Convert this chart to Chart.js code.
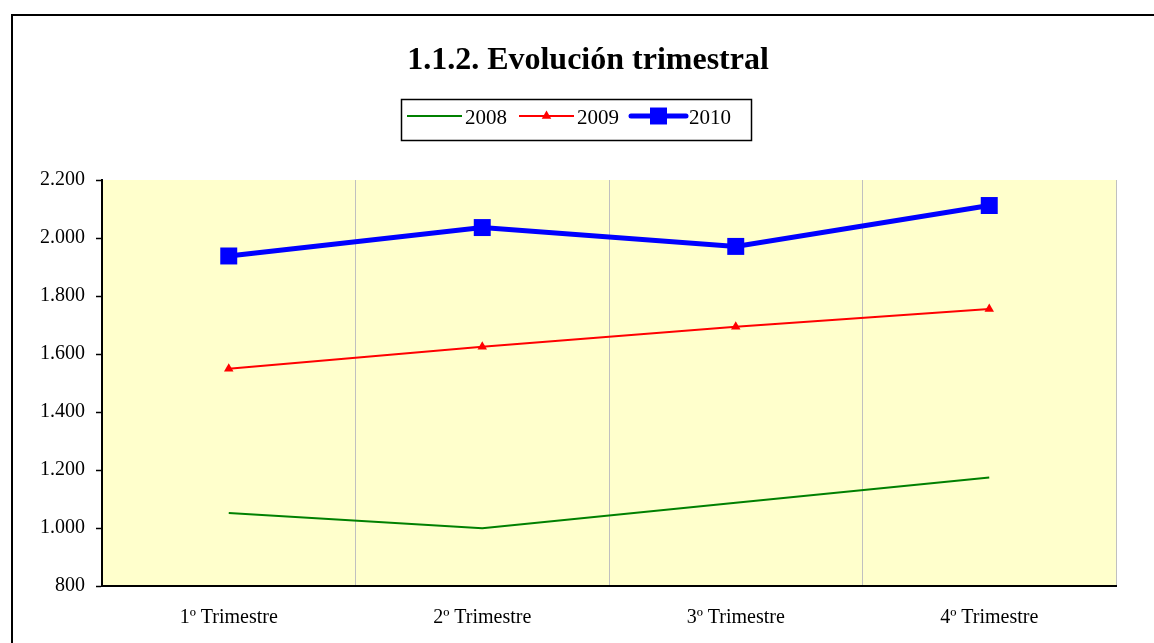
<!DOCTYPE html>
<html>
<head>
<meta charset="utf-8">
<script src="https://cdn.jsdelivr.net/npm/chart.js@4.4.1/dist/chart.umd.min.js"></script>
<style>
  html, body { margin: 0; padding: 0; background: #fff; overflow: hidden; }
  #c { display: block; }
</style>
</head>
<body>
<canvas id="c" width="1154" height="643"></canvas>
<script>
const chartTitle = '1.1.2. Evolución trimestral';
const categories = ['1º Trimestre', '2º Trimestre', '3º Trimestre', '4º Trimestre'];
const seriesNames = ['2008', '2009', '2010'];
const values2008 = [1052, 999, 1087, 1174];
const values2009 = [1549, 1625, 1694, 1755];
const values2010 = [1938, 2036, 1971, 2112];
const yTickValues = [800, 1000, 1200, 1400, 1600, 1800, 2000, 2200];

const FONT = "'Liberation Serif', 'Times New Roman', serif";

function fmt(v) {
  return String(v).replace(/\B(?=(\d{3})+(?!\d))/g, '.');
}

const bgPlugin = {
  id: 'bg',
  beforeDraw(chart) {
    const ctx = chart.ctx;
    const a = chart.chartArea;
    ctx.save();
    ctx.fillStyle = '#ffffff';
    ctx.fillRect(0, 0, chart.width, chart.height);
    ctx.fillStyle = '#FFFFCC';
    ctx.fillRect(a.left, a.top, a.right - a.left, a.bottom - a.top);
    ctx.strokeStyle = '#000';
    ctx.lineWidth = 2;
    ctx.strokeRect(12, 15, 2000, 2000);
    ctx.restore();
  }
};

function drawMarker(ctx, style, r, x, y, color) {
  ctx.fillStyle = color;
  ctx.beginPath();
  if (style === 'rect') {
    const s = Math.SQRT1_2 * r;
    ctx.rect(x - s, y - s, 2 * s, 2 * s);
  } else if (style === 'triangle') {
    ctx.moveTo(x, y - r);
    ctx.lineTo(x + r * Math.sin(Math.PI / 3), y + r * 0.5);
    ctx.lineTo(x - r * Math.sin(Math.PI / 3), y + r * 0.5);
    ctx.closePath();
  }
  ctx.fill();
}

const titleLegendPlugin = {
  id: 'titleLegend',
  afterDraw(chart) {
    const ctx = chart.ctx;
    ctx.save();
    ctx.fillStyle = '#000';
    ctx.font = 'bold 32px ' + FONT;
    ctx.textAlign = 'center';
    ctx.textBaseline = 'alphabetic';
    ctx.fillText(chartTitle, 588, 69);

    // legend box
    ctx.strokeStyle = '#000';
    ctx.lineWidth = 1.5;
    ctx.strokeRect(401.5, 99.5, 350, 41);
    ctx.font = '21px ' + FONT;
    ctx.textAlign = 'left';
    let x = 407;
    const ly = 116;
    chart.data.datasets.forEach(ds => {
      ctx.strokeStyle = ds.borderColor;
      ctx.lineWidth = ds.borderWidth;
      ctx.lineCap = ds.borderCapStyle || 'butt';
      ctx.beginPath();
      ctx.moveTo(x, ly);
      ctx.lineTo(x + 55, ly);
      ctx.stroke();
      if (ds.pointRadius > 0) {
        drawMarker(ctx, ds.pointStyle, ds.pointRadius, x + 27.5, ly, ds.borderColor);
      }
      ctx.fillStyle = '#000';
      ctx.fillText(ds.label, x + 58, 124);
      x += 58 + ctx.measureText(ds.label).width + 12;
    });
    ctx.restore();
  }
};

new Chart(document.getElementById('c'), {
  type: 'line',
  data: {
    labels: categories,
    datasets: [
      {
        label: seriesNames[0], data: values2008,
        borderColor: '#008000', backgroundColor: '#008000',
        borderWidth: 2, pointRadius: 0, tension: 0
      },
      {
        label: seriesNames[1], data: values2009,
        borderColor: '#FF0000', backgroundColor: '#FF0000',
        borderWidth: 2, pointRadius: 5.5, pointStyle: 'triangle',
        pointBorderWidth: 0, tension: 0
      },
      {
        label: seriesNames[2], data: values2010,
        borderColor: '#0000FF', backgroundColor: '#0000FF',
        borderWidth: 5, pointRadius: 12, pointStyle: 'rect',
        pointBorderWidth: 0, borderCapStyle: 'round', tension: 0
      }
    ]
  },
  options: {
    responsive: false,
    animation: false,
    events: [],
    layout: { padding: { top: 180, right: 38, bottom: 0, left: 0 } },
    plugins: {
      legend: { display: false },
      title: { display: false },
      tooltip: { enabled: false }
    },
    scales: {
      x: {
        offset: true,
        grid: { offset: true, color: '#C0C0C0', lineWidth: 1, drawTicks: false },
        border: { color: '#000', width: 2 },
        ticks: { font: { family: FONT, size: 20 }, color: '#000', padding: 20, maxRotation: 0 },
        afterFit(s) { s.height = 57; }
      },
      y: {
        min: 800, max: 2200,
        afterBuildTicks(s) { s.ticks = yTickValues.map(v => ({ value: v })); },
        ticks: {
          font: { family: FONT, size: 20 }, color: '#000', padding: 11,
          callback: v => fmt(v)
        },
        grid: { drawOnChartArea: false, drawTicks: true, tickLength: 6, tickColor: '#000', tickWidth: 1.5 },
        border: { color: '#000', width: 2 },
        afterFit(s) { s.width = 102; }
      }
    }
  },
  plugins: [bgPlugin, titleLegendPlugin]
});
</script>
</body>
</html>
